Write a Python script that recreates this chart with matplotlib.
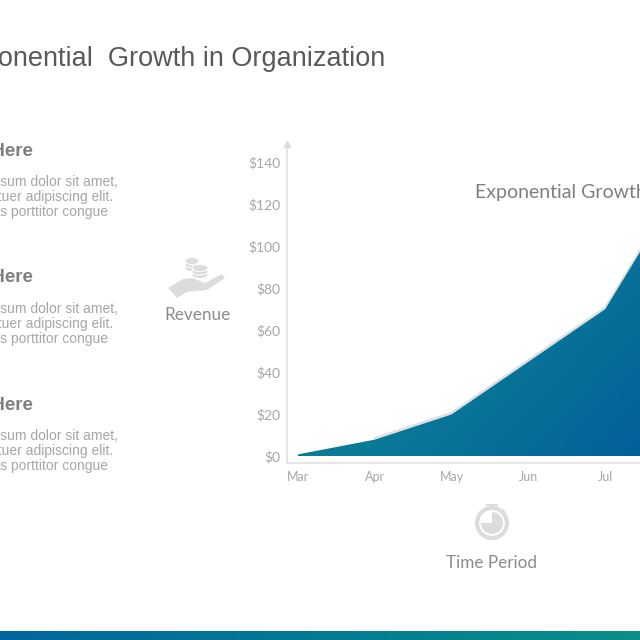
import numpy as np
import matplotlib
matplotlib.use("Agg")
import matplotlib.pyplot as plt
from matplotlib.colors import LinearSegmentedColormap
from matplotlib.patches import Circle, Wedge, Polygon, Rectangle, Ellipse
from matplotlib.transforms import offset_copy

# Data
months = ["Mar", "Apr", "May", "Jun", "Jul", "Aug"]
revenue = [1, 8, 20, 45, 70, 130]
y_ticks = [0, 20, 40, 60, 80, 100, 120, 140]
y_labels = ["$0", "$20", "$40", "$60", "$80", "$100", "$120", "$140"]
heading_y = [151, 278, 405]
body_lines = ["Lorem ipsum dolor sit amet,", "consectetuer adipiscing elit.", "Maecenas porttitor congue"]
body_right = [118, 113, 108]

GREY = "#a6a6a6"
fig = plt.figure(figsize=(6.4, 6.4), dpi=100)

# overlay in pixel coords for the slide stuff
bg = fig.add_axes([0, 0, 1, 1])
bg.set_xlim(0, 640)
bg.set_ylim(640, 0)
bg.axis("off")

# Chart axes, pixel positions taken from the slide
ax = fig.add_axes([287 / 640, (640 - 463) / 640, 353 / 640, 319 / 640])
ax.patch.set_alpha(0)

x = np.arange(len(months))
area = ax.fill_between(x, revenue, 0, color="none", zorder=3)

# grey shadow just above the area
shadow = offset_copy(ax.transData, fig=fig, x=0, y=1.5, units="dots")
ax.plot(x[1:], revenue[1:], color="#dedede", lw=1.6, transform=shadow, zorder=2)

# diagonal gradient clipped to the area
teal_blue = LinearSegmentedColormap.from_list("tb", ["#0c8496", "#0a7a98", "#005c9a"])
gx, gy = np.meshgrid(np.linspace(0, 1, 200), np.linspace(1, 0, 200))
grad = ax.imshow(gx * 0.6 + (1 - gy) * 0.4, cmap=teal_blue, vmin=0, vmax=1, aspect="auto",
                 extent=[0, 5, 0, 130], zorder=3)
grad.set_clip_path(area.get_paths()[0], transform=ax.transData)
ax.set_xlim(-0.143, 4.453)
ax.set_ylim(-3.1, 148.5)

ax.set_xticks(x[:5])
ax.set_xticklabels(months[:5], family="Lato", fontsize=9, color=GREY)
ax.set_yticks(y_ticks)
ax.set_yticklabels(y_labels, family="Lato", fontsize=10, color=GREY)
ax.tick_params(length=0, pad=5)
ax.tick_params(axis="x", pad=6)
for s in ["top", "right"]:
    ax.spines[s].set_visible(False)
for s in ["left", "bottom"]:
    ax.spines[s].set_color("#e0e0e0")
    ax.spines[s].set_linewidth(1.2)
ax.plot(0, 1, "^", color="#dadada", ms=4, transform=ax.transAxes, clip_on=False)

ax.text(475, 192.5, "Exponential Growth", transform=bg.transData, family="Lato",
        fontsize=14, color="#7f7f7f", va="center", ha="left", clip_on=True)

# Slide title, runs off the left edge
bg.text(385, 59, "Exponential  Growth in Organization", family="Liberation Sans",
        fontsize=19.5, color="#595959", ha="right", va="center")

# Left column
for hy in heading_y:
    bg.text(33, hy, "Text Here", family="Liberation Sans", weight="bold", fontsize=13.5,
            color="#7f7f7f", ha="right", va="center")
    for i, line in enumerate(body_lines):
        bg.text(body_right[i], hy + 31 + i * 15, line, family="Liberation Sans", fontsize=10,
                color=GREY, ha="right", va="center")

# Revenue icon
ICON = "#dcdcdc"
hand = [(168, 288), (183, 279), (192, 278), (205, 283), (222, 274), (225, 278),
        (207, 290), (187, 292), (177, 298)]
bg.add_patch(Polygon(hand, closed=True, color=ICON, lw=0))
for cx, cy, w, n in [(192, 261, 14, 3), (200, 268, 16, 3)]:
    for k in range(n):
        bg.add_patch(Ellipse((cx, cy + (n - 1 - k) * 3.5), w, 7, fc=ICON, ec="white", lw=0.7))
bg.text(198, 315, "Revenue", family="Lato", fontsize=12.3, color="#8c8c8c", ha="center", va="center")

# Time period icon
cx, cy = 492, 523
bg.add_patch(Circle((cx, cy), 15, fc="none", ec=ICON, lw=3))
bg.add_patch(Wedge((cx, cy), 11, -90, 180, color=ICON, lw=0))
bg.add_patch(Rectangle((cx - 1.5, 505), 3, 5, color=ICON, lw=0))
bg.add_patch(Rectangle((cx - 6, 503.5), 12, 2.5, color=ICON, lw=0))
bg.add_patch(Polygon([(503, 509), (506, 512), (504, 514), (501, 511)], closed=True, color=ICON, lw=0))
bg.text(492, 563, "Time Period", family="Lato", fontsize=12.3, color="#8c8c8c", ha="center", va="center")

# Bottom band
band = LinearSegmentedColormap.from_list("band", ["#00669e", "#0a8f8a"])
bg.imshow(np.linspace(0, 1, 256).reshape(1, -1), cmap=band, aspect="auto", extent=[0, 640, 640, 631])
bg.set_xlim(0, 640)
bg.set_ylim(640, 0)

fig.savefig("out.png", dpi=100)
